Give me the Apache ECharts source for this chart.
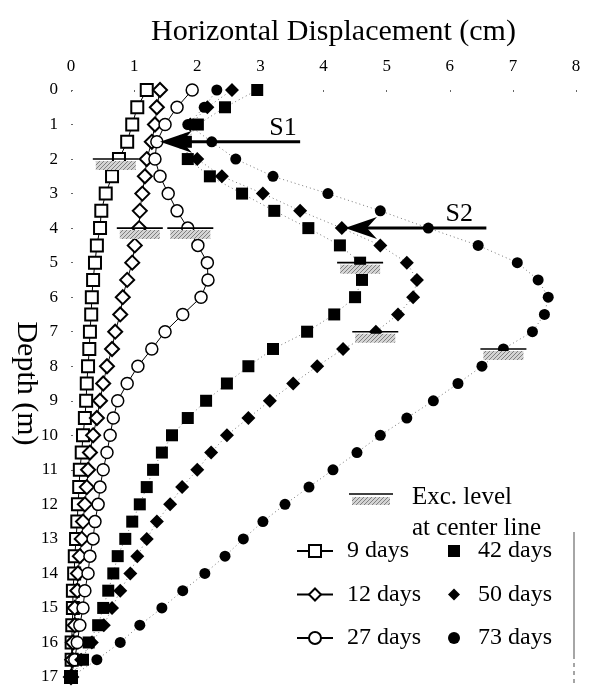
<!DOCTYPE html>
<html><head><meta charset="utf-8">
<script src="https://cdn.jsdelivr.net/npm/echarts@6/dist/echarts.min.js"></script>
<style>html,body{margin:0;padding:0;background:#fff}#c{width:589px;height:687px}</style>
</head><body><div id="c"></div>
<script>
const depths = [0,0.5,1,1.5,2,2.5,3,3.5,4,4.5,5,5.5,6,6.5,7,7.5,8,8.5,9,9.5,10,10.5,11,11.5,12,12.5,13,13.5,14,14.5,15,15.5,16,16.5,17];
const xTicks = ['0','1','2','3','4','5','6','7','8'];
const d9  = [1.20,1.05,0.97,0.89,0.76,0.65,0.55,0.48,0.46,0.41,0.38,0.35,0.33,0.32,0.30,0.29,0.27,0.25,0.24,0.22,0.19,0.17,0.14,0.13,0.11,0.10,0.08,0.06,0.05,0.03,0.03,0.02,0.01,0.01,0];
const d12 = [1.41,1.36,1.33,1.28,1.20,1.17,1.13,1.09,1.08,1.01,0.97,0.89,0.82,0.78,0.70,0.65,0.57,0.51,0.46,0.41,0.35,0.30,0.27,0.25,0.22,0.19,0.17,0.14,0.11,0.10,0.06,0.06,0.03,0.02,0];
const d27 = [1.92,1.68,1.49,1.36,1.33,1.41,1.54,1.68,1.85,2.01,2.16,2.17,2.06,1.77,1.49,1.28,1.06,0.89,0.74,0.67,0.62,0.57,0.51,0.46,0.43,0.38,0.35,0.30,0.27,0.22,0.19,0.14,0.10,0.06,0];
const d42 = [2.95,2.44,2.01,1.82,1.85,2.20,2.71,3.22,3.76,4.26,4.58,4.61,4.50,4.17,3.74,3.20,2.81,2.47,2.14,1.85,1.60,1.44,1.30,1.20,1.09,0.97,0.86,0.74,0.67,0.59,0.51,0.43,0.28,0.19,0];
const d50 = [2.55,2.16,1.89,1.73,2.00,2.39,3.04,3.63,4.29,4.90,5.32,5.48,5.42,5.18,4.83,4.31,3.90,3.52,3.15,2.81,2.47,2.22,2.00,1.76,1.57,1.36,1.20,1.05,0.94,0.78,0.65,0.52,0.33,0.16,0];
const d73 = [2.31,2.11,1.85,2.23,2.61,3.20,4.07,4.90,5.66,6.45,7.07,7.40,7.56,7.50,7.31,6.85,6.51,6.13,5.74,5.32,4.90,4.53,4.15,3.77,3.39,3.04,2.73,2.44,2.12,1.77,1.44,1.09,0.78,0.41,0];
// excavation level marks (x in cm, depth in m)
const excX = [0.71,1.09,1.89,4.58,4.82,6.85];
const excDepth = [2,4,4,5,7,7.5];
// arrows S1, S2
const arrowLabels = ['S1','S2'];
const arrowStart = [3.63,6.58];
const arrowTip = [1.41,4.34];
const arrowDepth = [1.5,4];
const arrowLabelX = [3.36,6.15];

const SERIF = "'Liberation Serif','Times New Roman',serif";
const pair = v => v.map((x,i)=>[x, depths[i]]);

// hatch pattern
const pc = document.createElement('canvas'); pc.width = 4; pc.height = 4;
const g = pc.getContext('2d');
g.fillStyle = '#d4d4d4'; g.fillRect(0,0,4,4);
g.fillStyle = '#808080'; g.fillRect(0,0,1,1); g.fillRect(2,2,1,1); g.fillRect(1,3,1,1); g.fillRect(3,1,1,1);
const hatch = {image: pc, repeat: 'repeat'};

const chart = echarts.init(document.getElementById('c'), null, {renderer:'canvas'});
const openStyle = (sym, size, bw) => ({
  type:'line', symbol: sym, symbolSize: size, showAllSymbol: true,
  lineStyle:{color:'#000', width:1},
  itemStyle:{color:'#fff', borderColor:'#000', borderWidth: bw, opacity:1},
  emphasis:{disabled:true}, z:3
});
const fillStyle = (sym, size) => ({
  type:'line', symbol: sym, symbolSize: size, showAllSymbol: true,
  lineStyle:{color:'#777', width:1, type:[1,3]},
  itemStyle:{color:'#000', borderColor:'#000', borderWidth:0, opacity:1},
  emphasis:{disabled:true}, z:4
});
const legendText = {fontFamily:SERIF, fontSize:24, color:'#000', lineHeight:20, padding:[0,0,0,9]};

const option = {
  animation:false,
  backgroundColor:'#fff',
  grid:{left:71, right:13, top:90, bottom:10, containLabel:false, outerBoundsMode:'none'},
  xAxis:{type:'value', position:'top', min:0, max:8, interval:1,
    name:'Horizontal Displacement (cm)', nameLocation:'middle', nameGap:43,
    nameTextStyle:{fontFamily:SERIF, fontSize:30, color:'#000', padding:[0,0,0,20]},
    axisLine:{show:false}, splitLine:{show:false},
    axisTick:{show:true, inside:true, length:2, lineStyle:{color:'#666'}},
    axisLabel:{fontFamily:SERIF, fontSize:17, color:'#000', margin:15,
      formatter:(v)=>xTicks[Math.round(v)]}
  },
  yAxis:{type:'value', inverse:true, min:0, max:17, interval:1,
    name:'Depth (m)', nameLocation:'middle', nameGap:30, nameRotate:-90, nameMoveOverlap:false,
    nameTextStyle:{fontFamily:SERIF, fontSize:30, color:'#000'},
    axisLine:{show:false}, splitLine:{show:false},
    axisTick:{show:true, inside:true, length:2, lineStyle:{color:'#666'}},
    axisLabel:{fontFamily:SERIF, fontSize:17, color:'#000', margin:13}
  },
  legend:[
    {orient:'vertical', left:291, top:534, itemWidth:36, itemHeight:15, itemGap:19.5,
     textStyle:legendText, selectedMode:false, data:['9 days','12 days','27 days']},
    {orient:'vertical', left:438, top:534, itemWidth:20, itemHeight:15, itemGap:19.5,
     textStyle:legendText, selectedMode:false, data:[
       {name:'42 days', lineStyle:{opacity:0}},
       {name:'50 days', lineStyle:{opacity:0}},
       {name:'73 days', lineStyle:{opacity:0}}]}
  ],
  series:[
    Object.assign(openStyle('rect',12,2), {name:'9 days', data:pair(d9)}),
    Object.assign(openStyle('diamond',14,2), {name:'12 days', data:pair(d12)}),
    Object.assign(openStyle('circle',12,1.5), {name:'27 days', data:pair(d27)}),
    Object.assign(fillStyle('rect',12), {name:'42 days', data:pair(d42)}),
    Object.assign(fillStyle('diamond',14), {name:'50 days', data:pair(d50)}),
    Object.assign(fillStyle('circle',11), {name:'73 days', data:pair(d73)}),
    {
      type:'custom', name:'exc', silent:true, z:5,
      data: excX.map((x,i)=>[x, excDepth[i]]),
      encode:{x:0, y:1},
      renderItem:(params, api)=>{
        const p = api.coord([api.value(0), api.value(1)]);
        return {type:'group', children:[
          {type:'rect', shape:{x:p[0]-20, y:p[1]+2, width:40, height:9}, style:{fill:hatch}},
          {type:'line', shape:{x1:p[0]-23, y1:p[1], x2:p[0]+23, y2:p[1]}, style:{stroke:'#000', lineWidth:1.6}}
        ]};
      }
    },
    {
      type:'custom', name:'arrows', silent:true, z:6,
      data: arrowStart.map((s,i)=>[s, arrowTip[i], arrowDepth[i], arrowLabelX[i]]),
      encode:{x:[0,1,3], y:2},
      renderItem:(params, api)=>{
        const s = api.coord([api.value(0), api.value(2)]);
        const e = api.coord([api.value(1), api.value(2)]);
        const lp = api.coord([api.value(3), api.value(2)]);
        const L=32, W=11, N=22;
        return {type:'group', children:[
          {type:'line', shape:{x1:s[0], y1:s[1], x2:e[0]+N, y2:e[1]}, style:{stroke:'#000', lineWidth:3}},
          {type:'polygon', shape:{points:[[e[0],e[1]],[e[0]+L,e[1]-W],[e[0]+N,e[1]],[e[0]+L,e[1]+W]]}, style:{fill:'#000'}},
          {type:'text', x:lp[0], y:s[1]-1, style:{text:arrowLabels[params.dataIndex], fill:'#000',
            fontFamily:SERIF, fontSize:26, align:'center', verticalAlign:'bottom'}}
        ]};
      }
    }
  ],
  graphic:[
    {type:'rect', shape:{x:352, y:497, width:38, height:8}, style:{fill:hatch}},
    {type:'line', shape:{x1:349, y1:494, x2:393, y2:494}, style:{stroke:'#000', lineWidth:1.6}},
    {type:'text', left:412, top:485, style:{text:'Exc. level', fill:'#000', fontFamily:SERIF, fontSize:25}},
    {type:'text', left:412, top:516, style:{text:'at center line', fill:'#000', fontFamily:SERIF, fontSize:25}},
    {type:'line', shape:{x1:574, y1:532, x2:574, y2:655}, style:{stroke:'#888', lineWidth:1.5}},
    {type:'line', shape:{x1:574, y1:655, x2:574, y2:687}, style:{stroke:'#888', lineWidth:1.5, lineDash:[4,4]}}
  ]
};
chart.setOption(option);
</script></body></html>
